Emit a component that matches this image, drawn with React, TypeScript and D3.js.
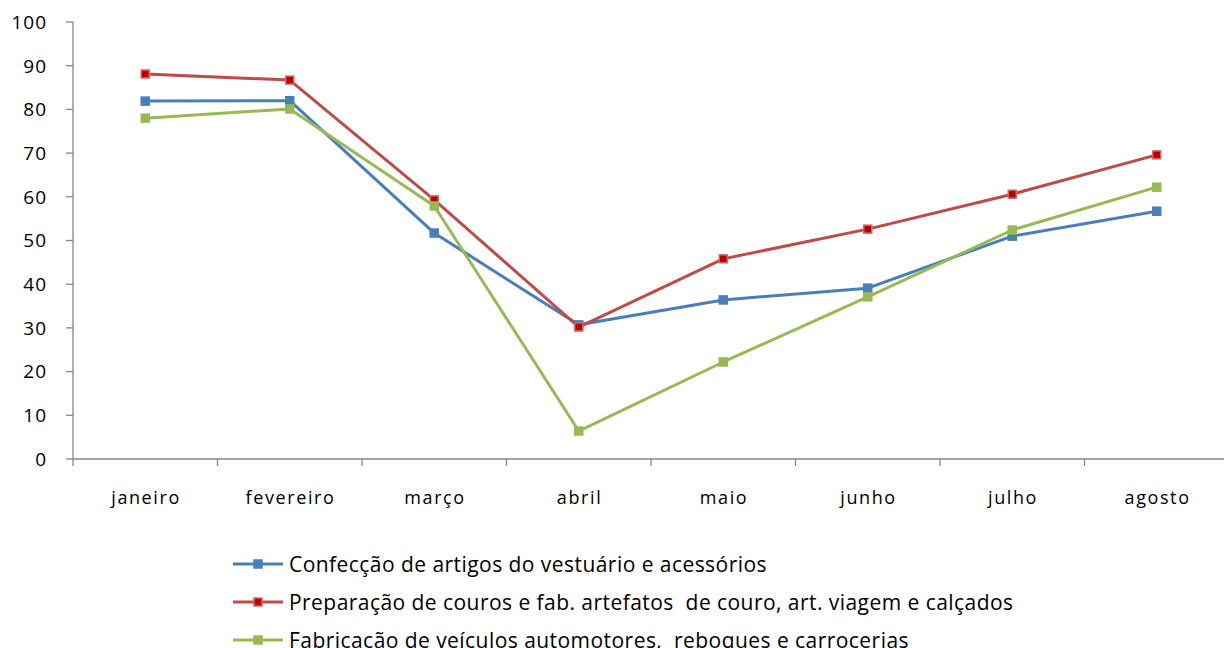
import React from "react";
import * as d3 from "d3";

const months = ["janeiro", "fevereiro", "março", "abril", "maio", "junho", "julho", "agosto"];
const confeccao = [81.9, 82.0, 51.7, 30.7, 36.4, 39.1, 51.0, 56.7];
const couros = [88.1, 86.7, 59.3, 30.2, 45.8, 52.6, 60.6, 69.6];
const veiculos = [78.0, 80.1, 57.9, 6.4, 22.2, 37.1, 52.4, 62.2];
const yTicks = [0, 10, 20, 30, 40, 50, 60, 70, 80, 90, 100];

const series = [
  { name: "Confecção de artigos do vestuário e acessórios", values: confeccao, color: "#4a7ebb", fill: "#4a7ebb", stroke: "#4a7ebb" },
  { name: "Preparação de couros e fab. artefatos  de couro, art. viagem e calçados", values: couros, color: "#be4b48", fill: "#c00000", stroke: "#d06a67" },
  { name: "Fabricação de veículos automotores,  reboques e carrocerias", values: veiculos, color: "#98b954", fill: "#98b954", stroke: "#98b954" },
];

export default function App() {
  const W = 1224, H = 648;
  const x0 = 73, x1 = 1229, yTop = 22, yBot = 459;
  const xBand = d3.scaleBand<string>().domain(months).range([x0, x1]);
  const y = d3.scaleLinear().domain([0, 100]).range([yBot, yTop]);
  const cx = (m: string) => (xBand(m) as number) + xBand.bandwidth() / 2;
  const line = d3.line<number>().x((_, i) => cx(months[i])).y((v) => y(v));
  const font = "'Open Sans', sans-serif";
  const axisColor = "#868686";
  const boundaries = d3.range(months.length + 1).map((i) => x0 + i * xBand.bandwidth());

  return (
    <div style={{ position: "absolute", left: 0, top: 0 }}>
      <svg width={W} height={H} style={{ display: "block", background: "#fff" }} fontFamily={font}>
        {/* y axis */}
        <line x1={x0} x2={x0} y1={yTop} y2={yBot} stroke={axisColor} strokeWidth={1.3} />
        {yTicks.map((t) => (
          <g key={t}>
            <line x1={x0 - 7} x2={x0} y1={y(t)} y2={y(t)} stroke={axisColor} strokeWidth={1.3} />
            <text x={x0 - 26} y={y(t)} dy="0.36em" textAnchor="end" fontSize={19} letterSpacing={1} fill="#000">{t}</text>
          </g>
        ))}
        {/* x axis */}
        <line x1={x0} x2={x1} y1={yBot} y2={yBot} stroke={axisColor} strokeWidth={1.3} />
        {boundaries.map((b, i) => (
          <line key={i} x1={b} x2={b} y1={yBot} y2={yBot + 7} stroke={axisColor} strokeWidth={1.3} />
        ))}
        {months.map((m) => (
          <text key={m} x={cx(m) + 0.8} y={504} textAnchor="middle" fontSize={18} letterSpacing={1.6} fill="#000">{m}</text>
        ))}
        {/* series */}
        {series.map((s) => (
          <g key={s.name}>
            <path d={line(s.values) as string} fill="none" stroke={s.color} strokeWidth={3} strokeLinejoin="round" />
            {s.values.map((v, i) => (
              <rect key={i} x={cx(months[i]) - 4} y={y(v) - 4} width={8} height={8} fill={s.fill} stroke={s.stroke} strokeWidth={1.5} />
            ))}
          </g>
        ))}
        {/* legend */}
        {series.map((s, i) => {
          const ly = 564 + i * 38;
          return (
            <g key={s.name}>
              <line x1={233} x2={283} y1={ly} y2={ly} stroke={s.color} strokeWidth={3} />
              <rect x={254} y={ly - 4} width={8} height={8} fill={s.fill} stroke={s.stroke} strokeWidth={1.5} />
              <text x={289} y={ly} dy="0.36em" fontSize={21} letterSpacing={0.45} style={{ whiteSpace: "pre" }} fill="#000">{s.name}</text>
            </g>
          );
        })}
      </svg>
    </div>
  );
}
